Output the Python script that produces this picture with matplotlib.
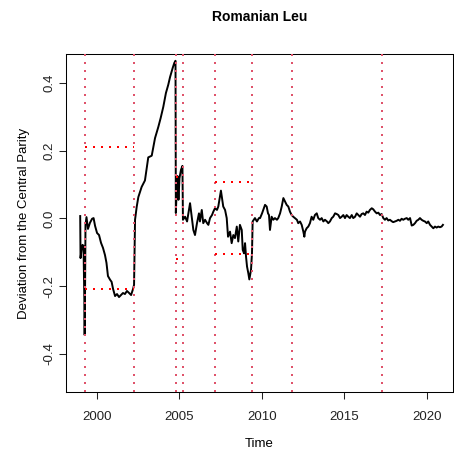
import matplotlib
matplotlib.use("Agg")
from matplotlib import pyplot as plt

plt.rcParams['font.family'] = ['Liberation Sans', 'DejaVu Sans']

# deviation of the leu from its central parity
dates = [1999.00, 1999.02, 1999.08, 1999.14, 1999.20, 1999.25, 1999.27, 1999.29,
         1999.32, 1999.38, 1999.47, 1999.59, 1999.72, 1999.81, 1999.90, 2000.02,
         2000.14, 2000.26, 2000.38, 2000.50, 2000.59, 2000.68, 2000.81, 2000.90,
         2000.99, 2001.11, 2001.23, 2001.35, 2001.47, 2001.59, 2001.71, 2001.83,
         2001.96, 2002.08, 2002.20, 2002.26,
         2002.32, 2002.42, 2002.52, 2002.72, 2002.92, 2003.12, 2003.33, 2003.53,
         2003.73, 2003.87, 2004.03, 2004.19, 2004.33, 2004.44, 2004.60, 2004.70,
         2004.77, 2004.79, 2004.83, 2004.89, 2004.95, 2005.01, 2005.10, 2005.19,
         2005.22, 2005.35, 2005.47, 2005.65, 2005.77, 2005.85, 2005.95, 2006.07,
         2006.19, 2006.25, 2006.36, 2006.45, 2006.56, 2006.68, 2006.76, 2006.86,
         2006.98, 2007.06, 2007.16, 2007.28, 2007.36, 2007.46, 2007.52, 2007.66,
         2007.77, 2007.87, 2007.95, 2008.07, 2008.17, 2008.27, 2008.37, 2008.48,
         2008.57, 2008.67, 2008.78, 2008.84, 2008.92, 2008.98, 2009.04, 2009.10,
         2009.18, 2009.24, 2009.34, 2009.40, 2009.44, 2009.58, 2009.70, 2009.82,
         2009.89, 2010.01, 2010.08, 2010.19, 2010.29, 2010.37, 2010.43, 2010.49,
         2010.59, 2010.69, 2010.79, 2010.91, 2010.99, 2011.10, 2011.20, 2011.30,
         2011.40, 2011.50, 2011.60, 2011.70, 2011.80, 2011.90, 2012.00, 2012.12,
         2012.20, 2012.31, 2012.41, 2012.51, 2012.57, 2012.61, 2012.71, 2012.81,
         2012.91, 2013.01, 2013.11, 2013.21, 2013.32, 2013.41, 2013.52, 2013.62,
         2013.72, 2013.82, 2013.94, 2014.02, 2014.12, 2014.23, 2014.32, 2014.43,
         2014.53, 2014.63, 2014.73, 2014.83, 2014.93, 2015.03, 2015.13, 2015.23,
         2015.33, 2015.44, 2015.53, 2015.64, 2015.74, 2015.84, 2015.94, 2016.04,
         2016.14, 2016.24, 2016.34, 2016.44, 2016.54, 2016.65, 2016.74, 2016.85,
         2016.95, 2017.05, 2017.15, 2017.25, 2017.35, 2017.45, 2017.55, 2017.65,
         2017.75, 2017.88, 2017.95, 2018.06, 2018.16, 2018.26, 2018.36, 2018.46,
         2018.56, 2018.66, 2018.77, 2018.86, 2018.97, 2019.07, 2019.17, 2019.27,
         2019.37, 2019.47, 2019.57, 2019.67, 2019.77, 2019.87, 2019.98, 2020.07,
         2020.18, 2020.28, 2020.38, 2020.48, 2020.58, 2020.68, 2020.78, 2020.88,
         2020.96]
deviation = [0.007, -0.117, -0.093, -0.078, -0.081, -0.240, -0.344, -0.240,
             -0.019, 0.004, -0.031, -0.013, -0.001, 0.001, -0.022, -0.043,
             -0.049, -0.072, -0.087, -0.108, -0.131, -0.170, -0.181, -0.187,
             -0.208, -0.229, -0.223, -0.232, -0.226, -0.220, -0.223, -0.214,
             -0.220, -0.226, -0.208, -0.196,
             -0.004, 0.034, 0.063, 0.093, 0.112, 0.180, 0.185, 0.237,
             0.270, 0.296, 0.329, 0.370, 0.394, 0.417, 0.444, 0.459,
             0.465, 0.016, 0.069, 0.125, 0.055, 0.119, 0.143, 0.155,
             -0.004, 0.005, -0.009, 0.045, -0.004, -0.034, -0.049, -0.014,
             0.015, -0.009, 0.025, -0.014, -0.004, -0.014, -0.019, 0.001,
             0.010, 0.020, 0.030, 0.025, 0.035, 0.064, 0.082, 0.035,
             0.025, 0.001, -0.054, -0.039, -0.073, -0.049, -0.058, -0.024,
             -0.068, -0.019, -0.034, -0.093, -0.103, -0.073, -0.113, -0.142,
             -0.162, -0.180, -0.152, -0.103, -0.009, 0.001, -0.009, 0.001,
             0.001, 0.015, 0.025, 0.040, 0.035, 0.015, 0.010, -0.034,
             0.005, -0.004, 0.001, -0.004, 0.001, 0.015, 0.035, 0.060,
             0.050, 0.040, 0.035, 0.020, 0.010, 0.005, 0.001, -0.004,
             -0.014, -0.009, -0.019, -0.039, -0.054, -0.039, -0.029, -0.024,
             -0.014, 0.005, -0.004, 0.010, 0.015, 0.001, -0.004, 0.001,
             -0.009, -0.004, -0.009, -0.014, -0.009, 0.001, 0.005, 0.015,
             0.013, 0.010, 0.001, 0.005, 0.010, 0.001, 0.010, 0.005,
             0.001, 0.010, 0.001, 0.005, 0.015, 0.010, 0.005, 0.013,
             0.015, 0.010, 0.020, 0.017, 0.025, 0.030, 0.027, 0.020,
             0.015, 0.017, 0.010, 0.013, 0.001, -0.004, 0.001, -0.006,
             -0.004, -0.009, -0.011, -0.009, -0.007, -0.004, -0.007, -0.001,
             -0.004, -0.001, 0.001, -0.004, 0.001, -0.021, -0.019, -0.014,
             -0.007, -0.004, 0.001, -0.004, -0.007, -0.009, -0.014, -0.009,
             -0.019, -0.024, -0.029, -0.024, -0.027, -0.024, -0.026, -0.024,
             -0.019]

# regime break dates
breaks = [1999.29, 2002.26, 2004.78, 2005.21, 2007.14, 2009.40, 2011.82, 2017.29]

# fluctuation bands
band_start = [1999.29, 2004.78, 2007.14]
band_end = [2002.26, 2005.21, 2009.40]
band_upper = [0.212, 0.122, 0.108]
band_lower = [-0.208, -0.119, -0.106]

fig = plt.figure(figsize=(4.54, 4.54), dpi=100)
ax = fig.add_axes([66 / 454, 62 / 454, 386.5 / 454, 338 / 454])

ax.plot(dates, deviation, color='black', lw=1.4, zorder=2)

dot = (0, (1, 3))
for b in breaks:
    ax.axvline(b, color='#DF536B', lw=1.44, ls=dot, zorder=3)
ax.hlines(band_upper, band_start, band_end, colors='red', lw=1.44, linestyles=dot, zorder=3)
ax.hlines(band_lower, band_start, band_end, colors='red', lw=1.44, linestyles=dot, zorder=3)

ax.set_xlim(1998.14, 2021.54)
ax.set_ylim(-0.512, 0.485)
ax.set_xticks([2000, 2005, 2010, 2015, 2020])
ax.set_yticks([-0.4, -0.2, 0.0, 0.2, 0.4])
ax.set_yticklabels(['-0.4', '-0.2', '0.0', '0.2', '0.4'], rotation=90, va='center')

for s in ax.spines.values():
    s.set_linewidth(0.75)
ax.tick_params(length=5, width=0.75, labelsize=9.5, colors='#222222')
ax.tick_params(axis='x', pad=8.5)
ax.tick_params(axis='y', pad=2.5)

ax.set_xlabel('Time', fontsize=9.5, labelpad=11)
ax.set_ylabel('Deviation from the Central Parity', fontsize=9.5, labelpad=10)
ax.set_title('Romanian Leu', fontsize=10, fontweight='bold', pad=24)

fig.savefig('out.png', dpi=100)
